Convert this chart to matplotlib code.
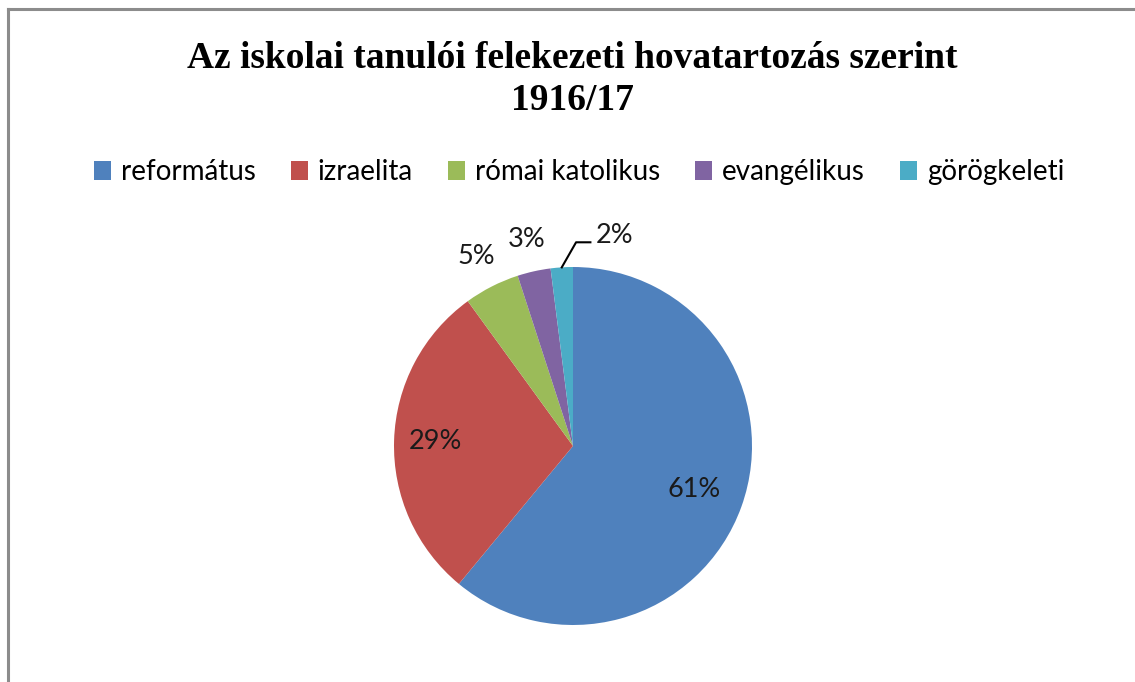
import matplotlib.pyplot as plt
from matplotlib.lines import Line2D
import numpy as np

categories = ["református", "izraelita", "római katolikus", "evangélikus", "görögkeleti"]
shares = [61, 29, 5, 3, 2]
pct_labels = ["61%", "29%", "5%", "3%", "2%"]
colors = ["#4F81BD", "#C0504D", "#9BBB59", "#8064A2", "#4BACC6"]

W, H = 1135, 682
fig = plt.figure(figsize=(W / 100, H / 100), dpi=100)

# chart frame (bottom is cut off in the original screenshot)
fig.add_artist(Line2D([8 / W, 8 / W], [0, 1 - 9 / H], color="#8c8c8c", lw=2.2))
fig.add_artist(Line2D([8 / W, 1], [1 - 9 / H, 1 - 9 / H], color="#8c8c8c", lw=2.2))

fig.text(572 / W, 1 - 58 / H, "Az iskolai tanulói felekezeti hovatartozás szerint",
         ha="center", va="center", family="Liberation Serif", weight="bold", fontsize=27)
fig.text(572 / W, 1 - 100 / H, "1916/17",
         ha="center", va="center", family="Liberation Serif", weight="bold", fontsize=27)

# pie centre (573, 446) px, radius 179 px
R = 250
cx, cy, r = 573, 446, 179
ax = fig.add_axes([(cx - R) / W, (H - cy - R) / H, 2 * R / W, 2 * R / H])
wedges, _ = ax.pie(shares, colors=colors, startangle=90, counterclock=False,
                   wedgeprops=dict(linewidth=0))
ax.set_xlim(-R / r, R / r)
ax.set_ylim(-R / r, R / r)
ax.set_aspect("equal")
ax.axis("off")

label_dist = [0.72, 0.77, 1.19, 1.18, None]
for w, lab, d in zip(wedges, pct_labels, label_dist):
    mid = np.deg2rad((w.theta1 + w.theta2) / 2)
    if d is not None:
        ax.text(d * np.cos(mid), d * np.sin(mid), lab, ha="center", va="center",
                family="Lato", fontsize=19.5, color="#1a1a1a")
    else:
        x0, y0 = 1.0 * np.cos(mid), 1.0 * np.sin(mid)
        ax.plot([x0, x0 + 0.08, x0 + 0.16], [y0, y0 + 0.14, y0 + 0.14], color="black", lw=1.5)
        ax.text(x0 + 0.19, y0 + 0.14 + 0.04, lab, ha="left", va="center",
                family="Lato", fontsize=19.5, color="#1a1a1a")

fig.legend(wedges, categories, loc="center", bbox_to_anchor=(579 / W, 1 - 172 / H),
           ncol=5, frameon=False, prop=dict(family="Lato", size=20),
           handlelength=0.62, handleheight=0.7, handletextpad=0.36, columnspacing=1.25)

fig.savefig("out.png", dpi=100)
